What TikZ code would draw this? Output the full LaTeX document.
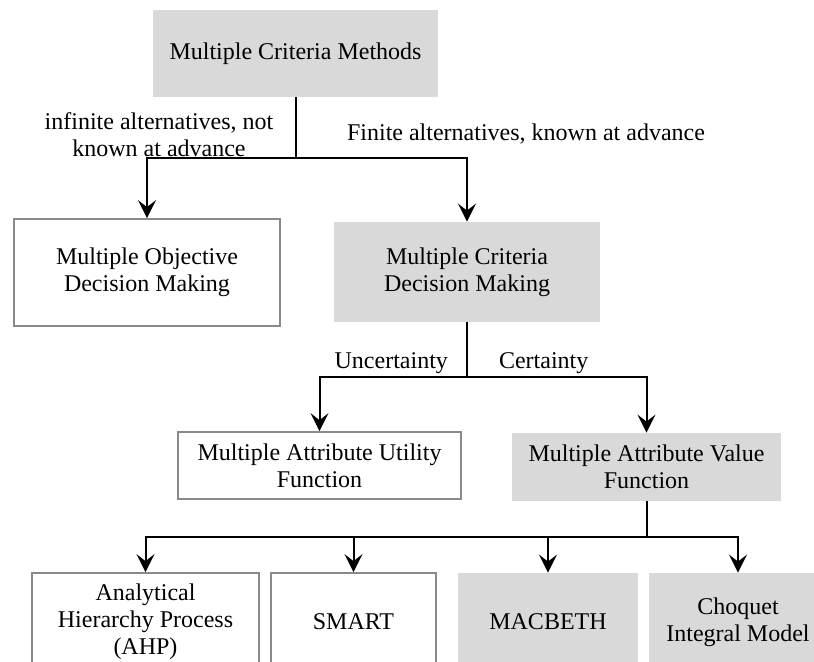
\documentclass[tikz,border=0pt]{standalone}
\usepackage{fontspec}
\setmainfont{Liberation Serif}
\usetikzlibrary{arrows.meta,positioning}
\definecolor{boxFill}{HTML}{D9D9D9}
\definecolor{boxLine}{HTML}{8A8A8A}
\tikzset{
  every node/.append style = {font=\fontsize{12}{13.5}\selectfont},
  % --- boxes ---------------------------------------------------------------
  catbox/.style   = {fill=boxFill, align=center, inner sep=2pt},
  plainbox/.style = {draw=boxLine, fill=white, line width=0.85pt,
                     align=center, inner sep=2pt},
  % --- connectors ----------------------------------------------------------
  branch/.style   = {draw=black, line width=1pt},
  branchto/.style = {branch, -{Stealth[length=9pt,width=9pt,inset=3.5pt]}},
  % --- labels --------------------------------------------------------------
  edgelbl/.style  = {align=center},
}

\begin{document}
\begin{tikzpicture}[x=0.5pt, y=-0.5pt]
\useasboundingbox (0,0) rectangle (814,662);
\clip (0,0) rectangle (814,662);

% ==================== level 0 ===============================================
\node[catbox, minimum width=142.5pt, minimum height=43.5pt] (mcm) at (295.5,53.5)
     {Multiple Criteria Methods};

% ==================== level 1 ===============================================
\node[plainbox, minimum width=133pt, minimum height=53.5pt] (modm) at (147,272.5)
     {Multiple Objective\\Decision Making};
\node[catbox, minimum width=133pt, minimum height=50pt] (mcdm) at (467,272)
     {Multiple Criteria\\Decision Making};

\coordinate (fork1) at (mcm.south |- 0,158);
\draw[branch] (mcm.south) -- (fork1);
\foreach \n in {modm,mcdm}{ \draw[branchto] (fork1) -| (\n.north); }

\node[edgelbl] (lblinf) at (159,134.5) {infinite alternatives, not\\known at advance};
\node[edgelbl] (lblfin) at (526,134) {Finite alternatives, known at advance};

% ==================== level 2 ===============================================
\node[plainbox, minimum width=141.5pt, minimum height=33.5pt] (mauf) at (319.5,465.5)
     {Multiple Attribute Utility\\Function};
\node[catbox, minimum width=134.5pt, minimum height=34pt] (mavf) at (646.5,467)
     {Multiple Attribute Value\\Function};

\coordinate (fork2) at (mcdm.south |- 0,377);
\draw[branch] (mcdm.south) -- (fork2);
\foreach \n in {mauf,mavf}{ \draw[branchto] (fork2) -| (\n.north); }

\node[anchor=east] (lblunc) at (455,363) {Uncertainty};
\node[anchor=west] (lblcer) at (492,363) {Certainty};

% ==================== level 3 (cut at the bottom edge) ======================
\node[plainbox, minimum width=113.5pt, minimum height=49pt] (ahp) at (145.5,622)
     {Analytical\\Hierarchy Process\\(AHP)};
\node[plainbox, minimum width=82.5pt, minimum height=49pt] (smart) at (353.5,622)
     {SMART};
\node[catbox, minimum width=90pt, minimum height=49pt] (macbeth) at (548,622)
     {MACBETH};
\node[catbox, minimum width=89pt, minimum height=49pt] (choquet) at (738,622)
     {Choquet\\Integral Model};

\coordinate (fork3) at (mavf.south |- 0,537);
\draw[branch] (mavf.south) -- (fork3);
\foreach \n in {ahp,smart,macbeth,choquet}{ \draw[branchto] (fork3) -| (\n.north); }

\end{tikzpicture}
\end{document}
